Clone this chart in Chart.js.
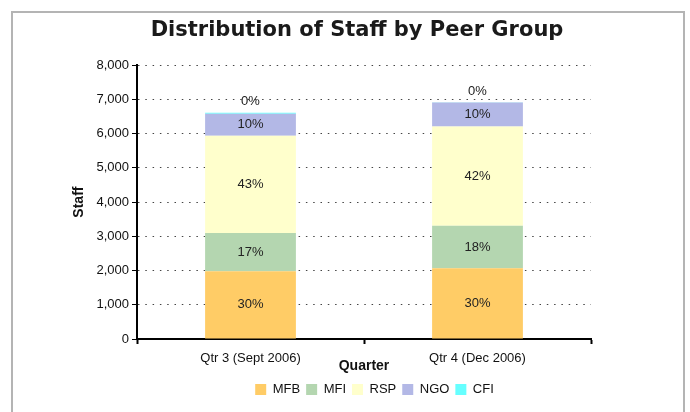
<!DOCTYPE html>
<html>
<head>
<meta charset="utf-8">
<script src="https://cdn.jsdelivr.net/npm/chart.js@4"></script>
<style>
  body { margin: 0; background: #fff; }
  #wrap { position: relative; width: 690px; height: 412px; }
  #frame { position: absolute; left: 11px; top: 11px; width: 670px; height: 420px; border: 2px solid #b4b4b4; }
  canvas { position: absolute; left: 0; top: 0; }
</style>
</head>
<body>
<div id="wrap">
  <div id="frame"></div>
  <canvas id="staffChart" width="690" height="412"></canvas>
</div>
<script>
// Quarters and staff counts by peer group
const quarters = ['Qtr 3 (Sept 2006)', 'Qtr 4 (Dec 2006)'];
const mfb = [1980, 2070];
const mfi = [1120, 1240];
const rsp = [2840, 2900];
const ngo = [640, 700];
const cfi = [32, 10];

const groupNames = ['MFB', 'MFI', 'RSP', 'NGO', 'CFI'];
const groupColors = ['#FFCC66', '#B4D6B0', '#FFFFCC', '#B3B8E6', '#66FFFF'];

const arial = '"Liberation Sans", Arial, sans-serif';

// Percent labels inside each segment (CFI goes above the bar)
const pctLabels = {
  id: 'pctLabels',
  afterDatasetsDraw(chart) {
    const ctx = chart.ctx;
    const sets = chart.data.datasets;
    ctx.save();
    ctx.font = '13px ' + arial;
    ctx.fillStyle = '#222';
    ctx.textAlign = 'center';
    ctx.textBaseline = 'middle';
    sets.forEach((ds, i) => {
      const meta = chart.getDatasetMeta(i);
      meta.data.forEach((bar, j) => {
        let total = 0;
        sets.forEach(s => total += s.data[j]);
        const pct = Math.round(ds.data[j] / total * 100) + '%';
        if (i === sets.length - 1) {
          ctx.fillText(pct, bar.x, bar.y - 11);
        } else {
          ctx.fillText(pct, bar.x, (bar.y + bar.base) / 2);
        }
      });
    });
    ctx.restore();
  }
};

// Centre title and legend on the whole frame, not just the plot column
const widenBoxes = {
  id: 'widenBoxes',
  afterLayout(chart) {
    chart.titleBlock.left = 24;
    chart.titleBlock.right = 690;
    chart.legend.left = 74;
    chart.legend.right = 675;
  }
};

const seriesValues = [mfb, mfi, rsp, ngo, cfi];

new Chart(document.getElementById('staffChart'), {
  type: 'bar',
  data: {
    labels: quarters,
    datasets: groupNames.map((name, i) => ({
      label: name,
      data: seriesValues[i],
      backgroundColor: groupColors[i],
      borderWidth: 0,
      barPercentage: 0.5,
      categoryPercentage: 0.8
    }))
  },
  plugins: [pctLabels, widenBoxes],
  options: {
    responsive: false,
    animation: false,
    layout: { padding: { left: 71, right: 99, top: 0, bottom: 6 } },
    plugins: {
      title: {
        display: true,
        text: 'Distribution of Staff by Peer Group',
        color: '#1a1a1a',
        font: { family: '"DejaVu Sans", Verdana, sans-serif', size: 21, weight: 'bold' },
        padding: { top: 18, bottom: 22 }
      },
      legend: {
        position: 'bottom',
        labels: {
          boxWidth: 11,
          boxHeight: 11,
          padding: 6,
          color: '#111',
          font: { family: arial, size: 13 }
        }
      },
      tooltip: { enabled: false }
    },
    scales: {
      x: {
        stacked: true,
        afterFit: s => { s.height = 38; },
        grid: { drawOnChartArea: false, drawTicks: true, tickLength: 5, tickColor: '#000', tickWidth: 2 },
        border: { color: '#000', width: 2 },
        ticks: { color: '#111', padding: 7, font: { family: arial, size: 13 } },
        title: {
          display: true,
          text: 'Quarter',
          color: '#111',
          padding: { top: 0, bottom: 2 },
          font: { family: arial, size: 14, weight: 'bold' }
        }
      },
      y: {
        stacked: true,
        min: 0,
        max: 8000,
        afterFit: s => { s.width = 66; },
        ticks: { stepSize: 1000, color: '#111', padding: 3, font: { family: arial, size: 13 } },
        grid: { color: '#444', lineWidth: 1, tickLength: 5, tickColor: '#000', tickWidth: 1, tickBorderDash: [] },
        border: { color: '#000', width: 2, dash: [1.5, 5.8] },
        title: {
          display: true,
          text: 'Staff',
          color: '#111',
          padding: 0,
          font: { family: arial, size: 14, weight: 'bold' }
        }
      }
    }
  }
});
</script>
</body>
</html>
